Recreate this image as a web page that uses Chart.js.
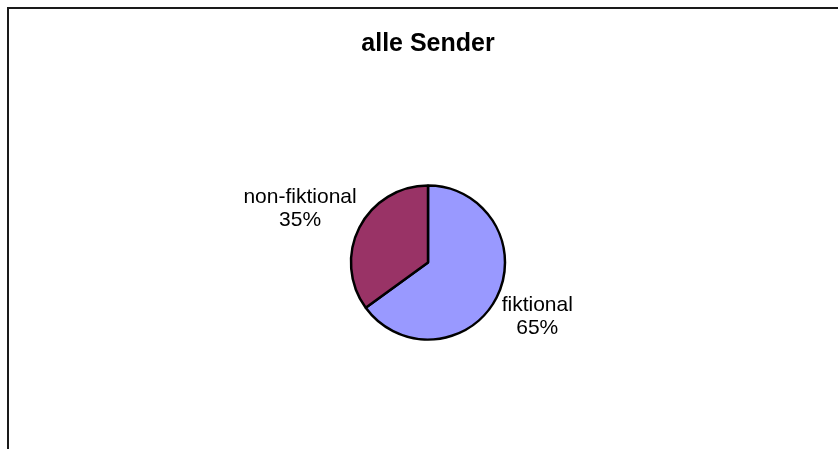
<!DOCTYPE html>
<html>
<head>
<meta charset="utf-8">
<script src="https://cdn.jsdelivr.net/npm/chart.js@4.4.0/dist/chart.umd.min.js"></script>
<style>
  html, body { margin: 0; padding: 0; background: #fff; overflow: hidden; }
  #wrap { width: 838px; height: 449px; }
</style>
</head>
<body>
<div id="wrap"><canvas id="chartPie" width="838" height="449"></canvas></div>
<script>
// ── data ────────────────────────────────────────────────────
const chartTitle = 'alle Sender';
const categories = ['fiktional', 'non-fiktional'];
const shares = [65, 35];
const sliceColors = ['#9999FF', '#993366'];

const FONT = 'Arial, "Liberation Sans", sans-serif';

// Excel-style outer frame (runs past the image on right/bottom)
const framePlugin = {
  id: 'frame',
  beforeDraw(chart) {
    const ctx = chart.ctx;
    ctx.save();
    ctx.strokeStyle = '#1a1a1a';
    ctx.lineWidth = 2;
    ctx.strokeRect(8, 8, 1200, 1200);
    ctx.restore();
  },
};

// category name + percent placed outside each slice
const outsideLabels = {
  id: 'outsideLabels',
  afterDatasetsDraw(chart) {
    const ctx = chart.ctx;
    const meta = chart.getDatasetMeta(0);
    const total = shares.reduce((a, b) => a + b, 0);
    const lh = 23;
    ctx.save();
    ctx.font = '21px ' + FONT;
    ctx.fillStyle = '#000';
    ctx.textAlign = 'center';
    ctx.textBaseline = 'middle';
    meta.data.forEach((arc, i) => {
      const { x, y, startAngle, endAngle, outerRadius } = arc.getProps(['x', 'y', 'startAngle', 'endAngle', 'outerRadius'], true);
      const mid = (startAngle + endAngle) / 2;
      const dx = Math.cos(mid), dy = Math.sin(mid);
      const lines = [categories[i], Math.round(shares[i] / total * 100) + '%'];
      const w = Math.max(...lines.map(t => ctx.measureText(t).width));
      const h = lines.length * lh + 18;
      const ax = x + dx * (outerRadius + 10);
      const ay = y + dy * (outerRadius + 10);
      const cx = ax + dx * w / 2;
      const cy = ay + dy * h / 2;
      lines.forEach((t, k) => {
        ctx.fillText(t, cx, cy + (k - (lines.length - 1) / 2) * lh);
      });
    });
    ctx.restore();
  },
};

new Chart(document.getElementById('chartPie'), {
  type: 'pie',
  data: {
    labels: categories,
    datasets: [{
      data: shares,
      backgroundColor: sliceColors,
      borderColor: '#000',
      borderWidth: 2.5,
      radius: 77,
    }],
  },
  options: {
    responsive: false,
    devicePixelRatio: 1,
    animation: false,
    layout: { padding: { left: 28, right: 10, top: 10, bottom: 10 } },
    plugins: {
      legend: { display: false },
      tooltip: { enabled: false },
      title: {
        display: true,
        text: chartTitle,
        color: '#000',
        font: { family: FONT, size: 25, weight: 'bold', lineHeight: 1.2 },
        padding: { top: 19, bottom: 27 },
      },
    },
  },
  plugins: [framePlugin, outsideLabels],
});
</script>
</body>
</html>
